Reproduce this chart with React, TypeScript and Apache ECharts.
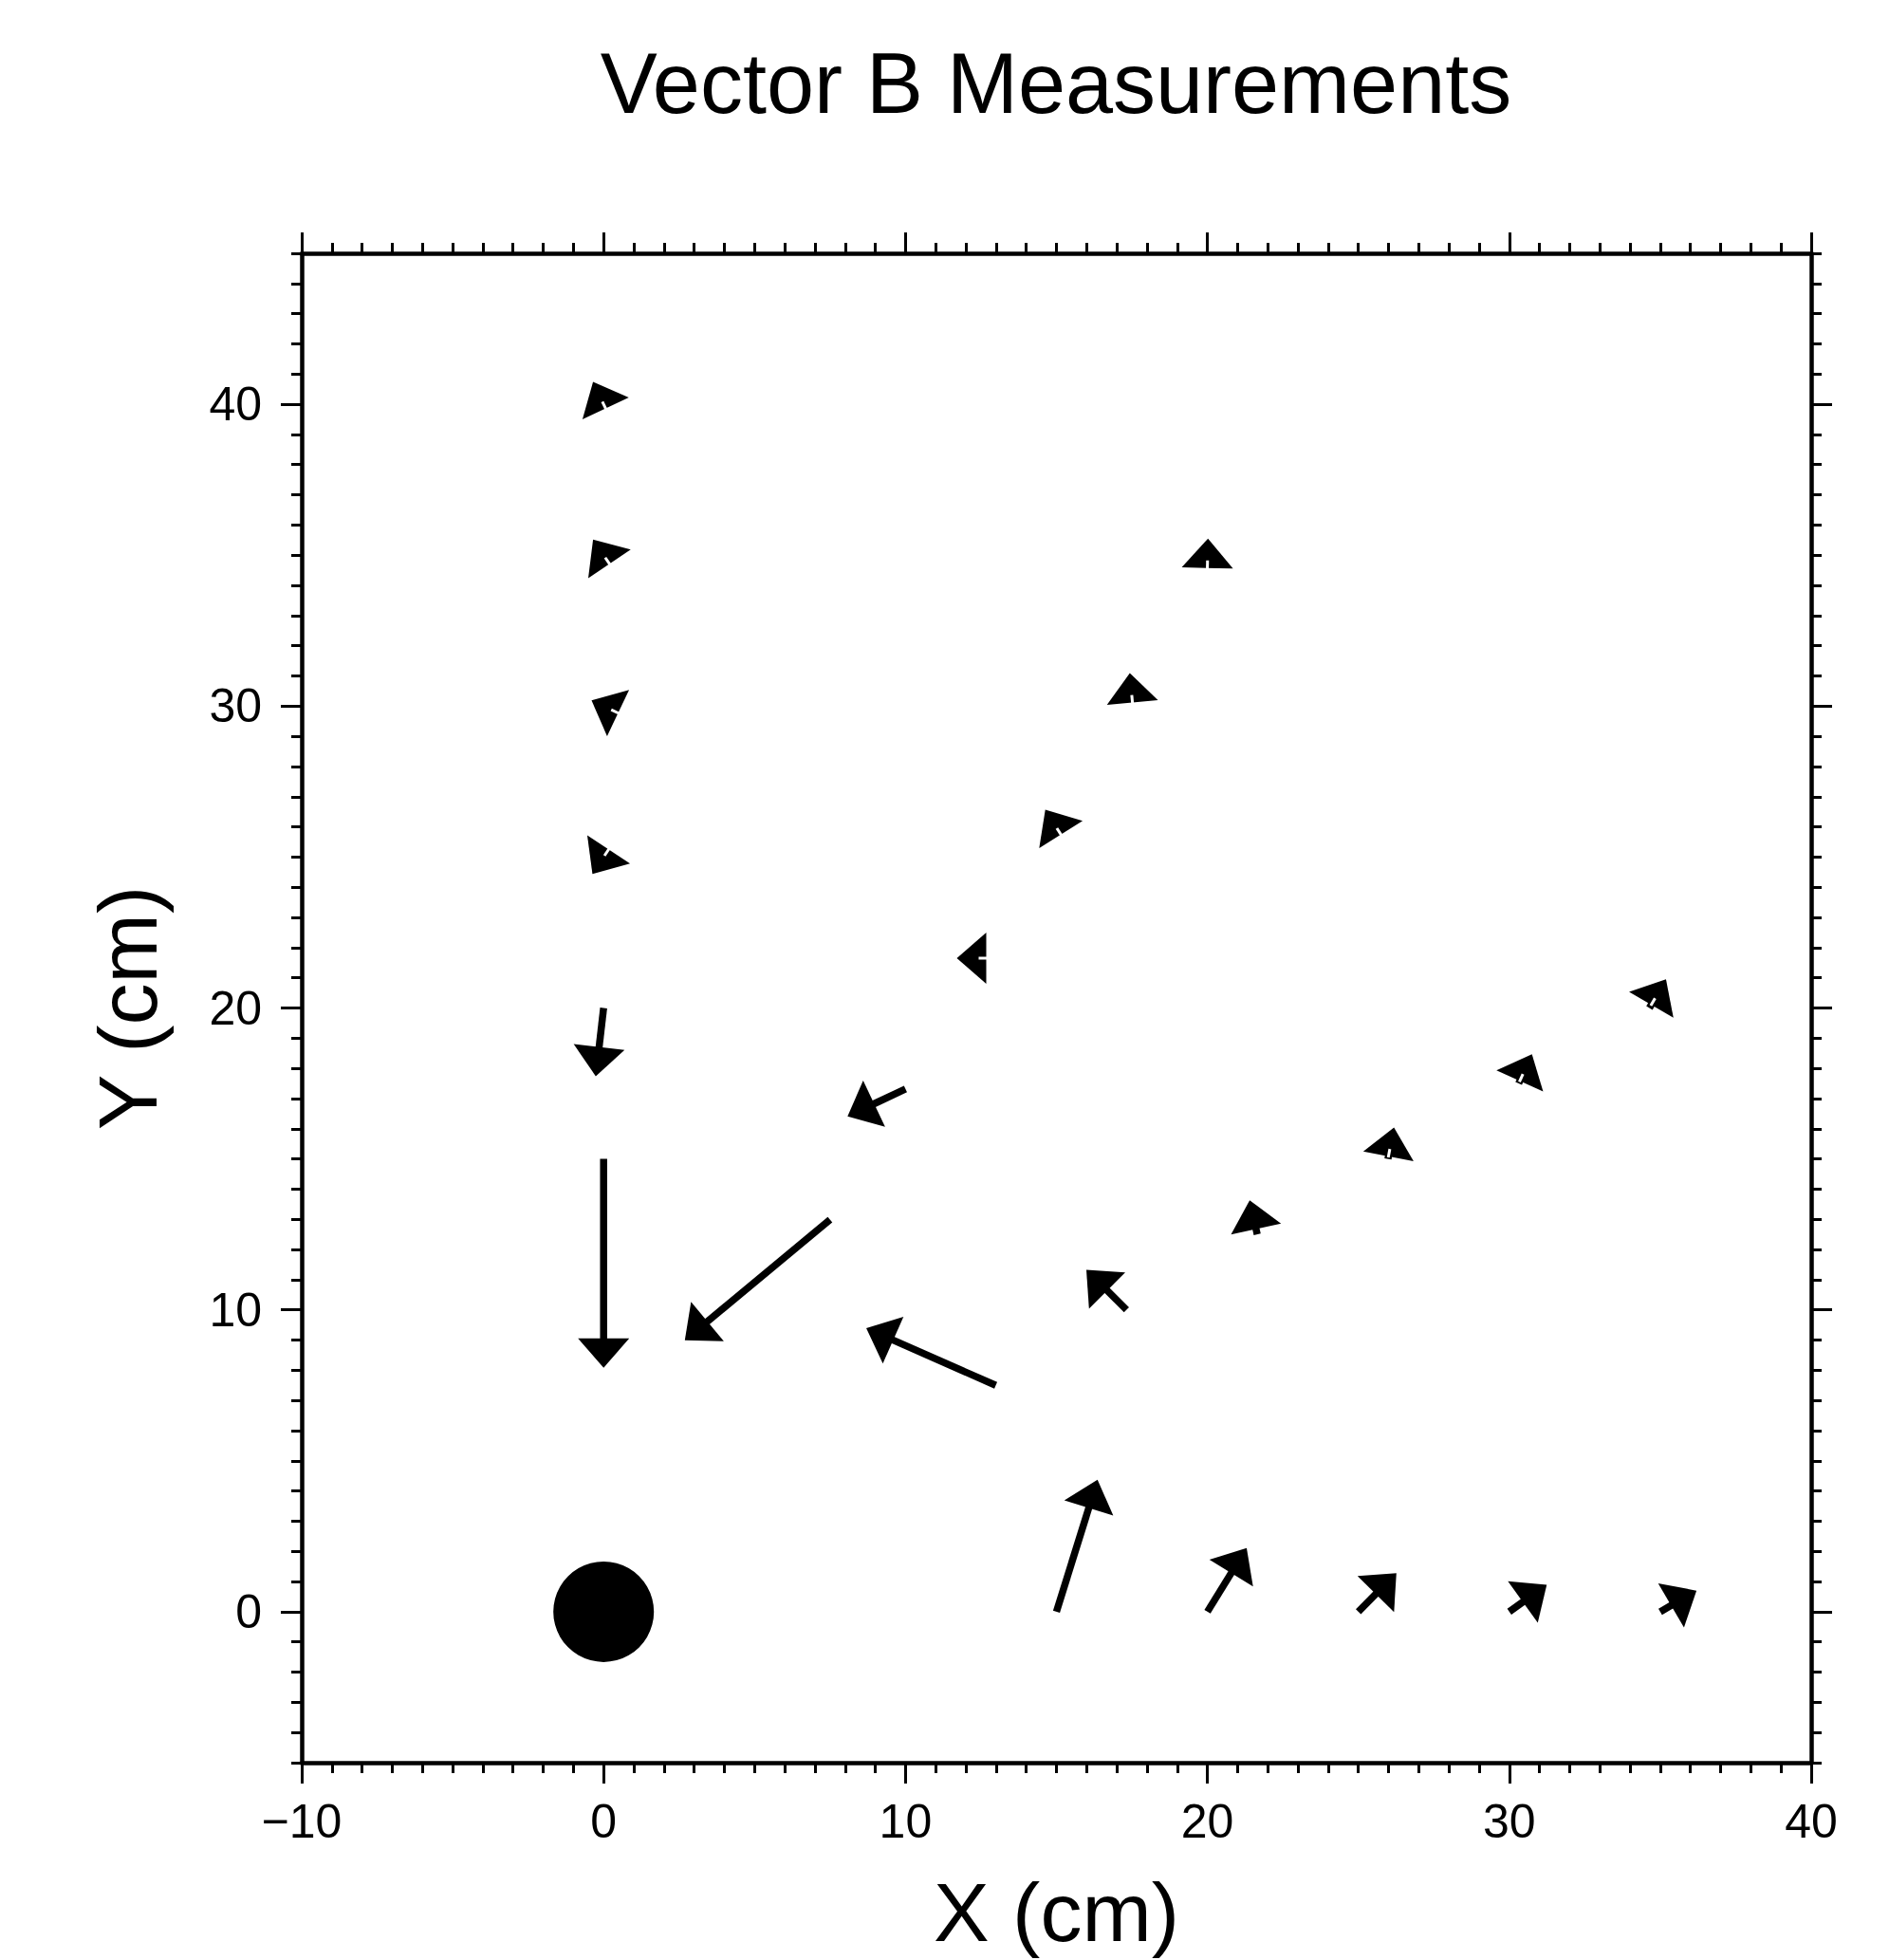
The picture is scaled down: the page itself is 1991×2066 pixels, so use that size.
import React, { useEffect, useRef } from "react";
import * as echarts from "echarts";

const TITLE = "Vector B Measurements";
const X_NAME = "X (cm)";
const Y_NAME = "Y (cm)";

const X_MIN = -10;
const X_MAX = 40;
const X_MAJOR = 10;
const Y_MIN = -5;
const Y_MAX = 45;
const yMajorTicks = [0, 10, 20, 30, 40];

// vector tails (cm)
const tailX = [0, 0, 0, 0, 0, 0, 7.5, 10, 12.5, 15, 17.5, 20, 12.99, 17.32, 21.65, 25.98, 30.31, 34.64, 15, 20, 25, 30, 35];
const tailY = [15, 20, 25, 30, 35, 40, 12.99, 17.32, 21.65, 25.98, 30.31, 34.64, 7.5, 10, 12.5, 15, 17.5, 20, 0, 0, 0, 0, 0];
// vector components (cm)
const vecX = [0, -0.26, -0.37, -0.4, -0.35, -0.35, -4.81, -1.92, -0.8, -0.37, -0.07, 0.02, -4.29, -1.33, -0.25, 0.2, 0.44, 0.55, 1.36, 1.3, 1.26, 1.24, 1.2];
const vecY = [-6.92, -2.26, -0.56, 0.19, 0.52, 0.74, -4.0, -0.91, 0.0, 0.59, 0.78, 0.91, 1.89, 1.33, 1.13, 1.04, 0.97, 0.95, 4.37, 2.11, 1.28, 0.89, 0.7];

// source (dipole) position
const sourceX = [0];
const sourceY = [0];

const FONT = "Liberation Sans, Helvetica, Arial, sans-serif";

const HEAD_LEN = 31;
const HEAD_HALF = 27;
const SHAFT_W = 7.5;

function fmt(v: number) {
  return v < 0 ? "\u2212" + Math.abs(v) : String(v);
}

export default function App() {
  const ref = useRef<HTMLDivElement>(null);
  useEffect(() => {
    if (!ref.current) return;
    const chart = echarts.init(ref.current, undefined, { renderer: "svg" });
    const vectors = tailX.map((x, i) => [x, tailY[i], vecX[i], vecY[i]]);
    const source = sourceX.map((x, i) => [x, sourceY[i]]);

    const tickStyle = { color: "#000", width: 3 };
    const lineStyle = { color: "#000", width: 4.5 };

    const xBase = (pos: string, labels: boolean) => ({
      type: "value",
      min: X_MIN,
      max: X_MAX,
      interval: X_MAJOR,
      position: pos,
      axisLine: { show: true, onZero: false, lineStyle },
      axisTick: { show: true, length: 22, lineStyle: tickStyle },
      minorTick: { show: true, splitNumber: 10, length: 11, lineStyle: tickStyle },
      splitLine: { show: false },
      minorSplitLine: { show: false },
      axisLabel: {
        show: labels,
        fontSize: 50,
        fontFamily: FONT,
        color: "#000",
        margin: 37,
        formatter: fmt,
      },
    });

    const yMinor = (pos: string) => ({
      type: "value",
      min: Y_MIN,
      max: Y_MAX,
      interval: 1,
      position: pos,
      axisLine: { show: true, onZero: false, lineStyle },
      axisTick: { show: true, length: 11, lineStyle: tickStyle },
      splitLine: { show: false },
      axisLabel: { show: false },
    });
    const yMajor = (pos: string, labels: boolean) => ({
      type: "value",
      min: Y_MIN,
      max: Y_MAX,
      position: pos,
      axisLine: { show: false, onZero: false },
      axisTick: { show: true, length: 22, lineStyle: tickStyle, customValues: yMajorTicks },
      splitLine: { show: false },
      axisLabel: {
        show: labels,
        customValues: yMajorTicks,
        fontSize: 50,
        fontFamily: FONT,
        color: "#000",
        margin: 42,
        formatter: fmt,
      },
    });

    const xBottom: any = xBase("bottom", true);
    xBottom.name = X_NAME;
    xBottom.nameLocation = "middle";
    xBottom.nameGap = 113;
    xBottom.nameTextStyle = { fontSize: 88, fontFamily: FONT, color: "#000" };

    const yLeft: any = yMinor("left");
    yLeft.name = Y_NAME;
    yLeft.nameLocation = "middle";
    yLeft.nameGap = 140;
    yLeft.nameTextStyle = { fontSize: 88, fontFamily: FONT, color: "#000" };

    const option: any = {
      animation: false,
      backgroundColor: "#fff",
      grid: { left: 318, top: 267, width: 1591, height: 1591, containLabel: false, outerBoundsMode: "none" },
      graphic: [
        {
          type: "text",
          x: 1113,
          y: 88,
          style: {
            text: TITLE,
            fontSize: 90,
            fontFamily: FONT,
            fill: "#000",
            align: "center",
            verticalAlign: "middle",
          },
        },
      ],
      xAxis: [xBottom, xBase("top", false)],
      yAxis: [yLeft, yMajor("left", true), yMinor("right"), yMajor("right", false)],
      series: [
        {
          type: "scatter",
          xAxisIndex: 0,
          yAxisIndex: 0,
          data: source,
          symbol: "circle",
          symbolSize: 106,
          itemStyle: { color: "#000", opacity: 1 },
          silent: true,
        },
        {
          type: "custom",
          xAxisIndex: 0,
          yAxisIndex: 0,
          coordinateSystem: "cartesian2d",
          data: vectors,
          encode: { x: 0, y: 1 },
          silent: true,
          renderItem: (_params: any, api: any) => {
            const x = api.value(0);
            const y = api.value(1);
            const dx = api.value(2);
            const dy = api.value(3);
            const p0 = api.coord([x, y]);
            const p1 = api.coord([x + dx, y + dy]);
            const vx = p1[0] - p0[0];
            const vy = p1[1] - p0[1];
            const L = Math.hypot(vx, vy) || 1;
            const ux = vx / L;
            const uy = vy / L;
            const nx = -uy;
            const ny = ux;
            const bx = p1[0] - ux * HEAD_LEN;
            const by = p1[1] - uy * HEAD_LEN;
            const children: any[] = [];
            if (L > HEAD_LEN) {
              children.push({
                type: "line",
                shape: { x1: p0[0], y1: p0[1], x2: bx + ux * 3, y2: by + uy * 3 },
                style: { stroke: "#000", lineWidth: SHAFT_W, lineCap: "butt" },
              });
            }
            children.push({
              type: "polygon",
              shape: {
                points: [
                  [p1[0], p1[1]],
                  [bx + nx * HEAD_HALF, by + ny * HEAD_HALF],
                  [bx - nx * HEAD_HALF, by - ny * HEAD_HALF],
                ],
              },
              style: { fill: "#000" },
            });
            if (L < HEAD_LEN + 4) {
              children.push({
                type: "line",
                shape: { x1: bx - ux * 1, y1: by - uy * 1, x2: bx + ux * 8, y2: by + uy * 8 },
                style: { stroke: "#fff", lineWidth: 3, lineCap: "butt" },
              });
            }
            return { type: "group", children };
          },
        },
      ],
    };
    chart.setOption(option);
    return () => chart.dispose();
  }, []);
  return (
    <div
      ref={ref}
      style={{ position: "fixed", left: 0, top: 0, width: 1991, height: 2066, background: "#fff" }}
    />
  );
}
